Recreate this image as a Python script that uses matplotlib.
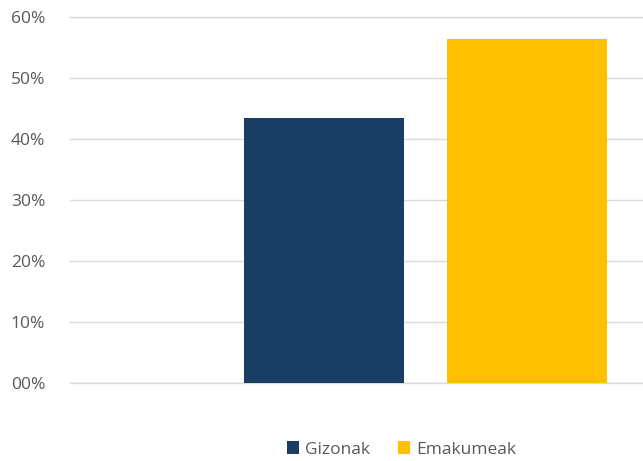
import matplotlib
matplotlib.use("Agg")
import matplotlib.pyplot as plt
from matplotlib.ticker import FuncFormatter

plt.rcParams['font.family'] = ['Open Sans', 'DejaVu Sans']

series = ['Gizonak', 'Emakumeak']
values = [43.4, 56.4]
colors = ['#1A3D63', '#FFC000']
yticks = [0, 10, 20, 30, 40, 50, 60]

fig = plt.figure(figsize=(6.43, 4.61), dpi=100)
ax = fig.add_axes([0.109, 0.169, 0.891, 0.794])

handles = []
for i, (name, v) in enumerate(zip(series, values)):
    h = ax.bar(i, v, width=0.788, color=colors[i], label=name, zorder=3)
    handles.append(h)

ax.set_xlim(-1.251, 1.571)
ax.set_ylim(0, 60)
ax.set_yticks(yticks)
ax.yaxis.set_major_formatter(FuncFormatter(lambda v, p: '%02d%%' % v))
ax.set_xticks([])
ax.grid(axis='y', color='#D9D9D9', linewidth=1, zorder=0)
ax.axhline(0, color='#D9D9D9', linewidth=1, zorder=2, clip_on=False)
ax.axhline(60, color='#D9D9D9', linewidth=1, zorder=2, clip_on=False)
for s in ax.spines.values():
    s.set_visible(False)
ax.tick_params(axis='y', length=0, pad=18, labelsize=12.5, labelcolor='#595959')

fig.legend(handles=handles, labels=series, loc='center', bbox_to_anchor=(0.625, 0.025),
           ncol=2, frameon=False, fontsize=12.5, labelcolor='#595959',
           handlelength=0.7, handleheight=0.7, handletextpad=0.35, columnspacing=1.6)

fig.savefig('out.png', dpi=100)
